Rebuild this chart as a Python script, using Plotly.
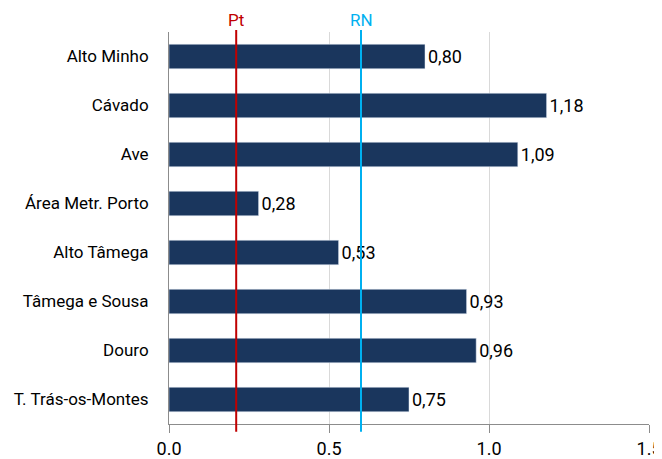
import plotly.graph_objects as go

# ---------------------------------------------------
# DATA
# ---------------------------------------------------

regioes = [
    "Alto Minho",
    "Cávado",
    "Ave",
    "Área Metr. Porto",
    "Alto Tâmega",
    "Tâmega e Sousa",
    "Douro",
    "T. Trás-os-Montes",
]
valores = [0.80, 1.18, 1.09, 0.28, 0.53, 0.93, 0.96, 0.75]
rotulos = [f"{v:.2f}".replace(".", ",") for v in valores]

ref_nomes = ["Pt", "RN"]
ref_valores = [0.21, 0.60]
ref_cores = ["#c00000", "#00b0f0"]

x_ticks = [0.0, 0.5, 1.0, 1.5]
x_tick_labels = ["0.0", "0.5", "1.0", "1.5"]

# ---------------------------------------------------
# FIGURE
# ---------------------------------------------------

fig = go.Figure()

fig.add_trace(
    go.Bar(
        x=valores,
        y=regioes,
        orientation="h",
        marker=dict(color="#1a365d"),
        width=0.5,
        text=rotulos,
        textposition="outside",
        textfont=dict(size=18, color="#000000"),
        cliponaxis=False,
        showlegend=False,
    )
)

# reference lines (Pt / RN)
for nome, val, cor in zip(ref_nomes, ref_valores, ref_cores):
    fig.add_shape(
        type="line",
        xref="x", yref="paper",
        x0=val, x1=val, y0=-0.02, y1=1.005,
        line=dict(color=cor, width=2),
        layer="above",
    )
    fig.add_annotation(
        x=val, y=1.0, xref="x", yref="paper",
        text=nome, showarrow=False,
        yanchor="bottom", yshift=0,
        font=dict(size=17, color=cor),
    )

# page body adds an 8px offset, so margins are shifted accordingly
fig.update_layout(
    width=662,
    height=459,
    margin=dict(l=161, r=21, t=24, b=43),
    plot_bgcolor="white",
    paper_bgcolor="white",
    font=dict(family="Roboto", size=17, color="#000000"),
    bargap=0.5,
)

fig.update_xaxes(
    range=[0, 1.5],
    tickvals=x_ticks,
    ticktext=x_tick_labels,
    showgrid=True,
    gridcolor="#d9d9d9",
    gridwidth=1,
    showline=True,
    linecolor="#8c8c8c",
    linewidth=1,
    ticks="outside",
    ticklen=8,
    tickcolor="#8c8c8c",
    tickfont=dict(size=18),
    zeroline=False,
    automargin=False,
)

fig.update_yaxes(
    autorange="reversed",
    showline=True,
    linecolor="#8c8c8c",
    linewidth=1,
    ticks="outside",
    ticklen=16,
    tickcolor="rgba(0,0,0,0)",
    tickfont=dict(size=17),
    showgrid=False,
    automargin=False,
)

fig.write_html("out.html")
